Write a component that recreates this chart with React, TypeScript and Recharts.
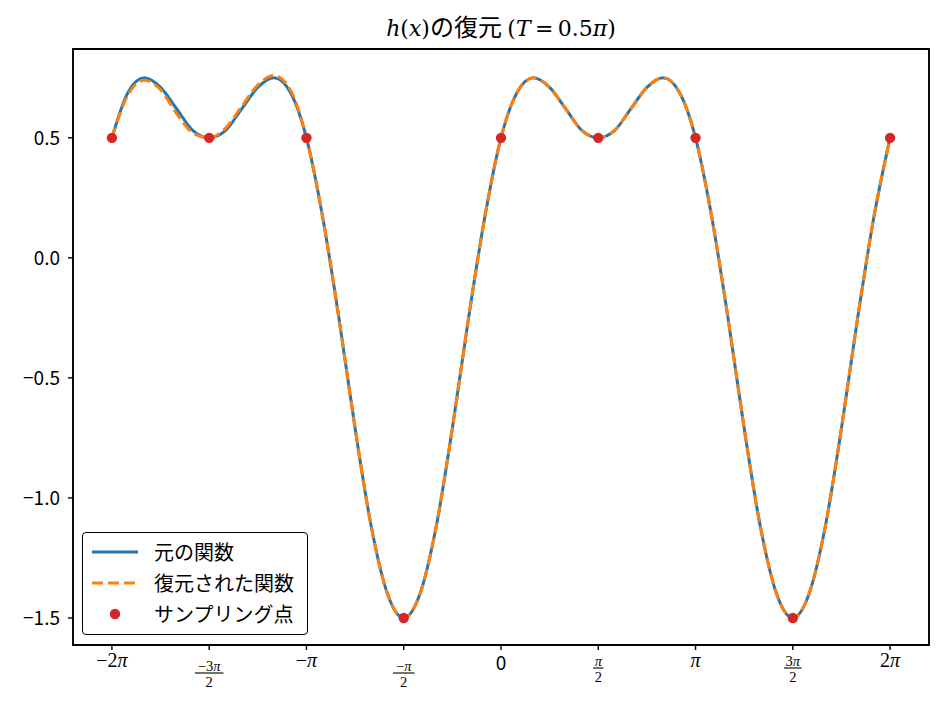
import React from 'react';
import { ComposedChart, Line, Scatter, XAxis, YAxis, ReferenceArea } from 'recharts';

// x positions in units of pi, step pi/12
const X_PI = [
  -2, -1.9167, -1.8333, -1.75, -1.6667, -1.5833, -1.5, -1.4167, -1.3333, -1.25, -1.1667, -1.0833,
  -1, -0.9167, -0.8333, -0.75, -0.6667, -0.5833, -0.5, -0.4167, -0.3333, -0.25, -0.1667, -0.0833,
  0, 0.0833, 0.1667, 0.25, 0.3333, 0.4167, 0.5, 0.5833, 0.6667, 0.75, 0.8333, 0.9167,
  1, 1.0833, 1.1667, 1.25, 1.3333, 1.4167, 1.5, 1.5833, 1.6667, 1.75, 1.8333, 1.9167, 2,
];

const ORIGINAL = [
  0.5, 0.69, 0.75, 0.71, 0.62, 0.53, 0.5, 0.53, 0.62, 0.71, 0.75, 0.69,
  0.5, 0.17, -0.25, -0.71, -1.12, -1.4, -1.5, -1.4, -1.12, -0.71, -0.25, 0.17,
  0.5, 0.69, 0.75, 0.71, 0.62, 0.53, 0.5, 0.53, 0.62, 0.71, 0.75, 0.69,
  0.5, 0.17, -0.25, -0.71, -1.12, -1.4, -1.5, -1.4, -1.12, -0.71, -0.25, 0.17, 0.5,
];

const RECONSTRUCTED = [
  0.5, 0.68, 0.74, 0.7, 0.6, 0.52, 0.5, 0.54, 0.63, 0.72, 0.76, 0.7,
  0.5, 0.17, -0.25, -0.71, -1.12, -1.4, -1.5, -1.4, -1.12, -0.71, -0.25, 0.17,
  0.5, 0.69, 0.75, 0.71, 0.62, 0.53, 0.5, 0.53, 0.62, 0.71, 0.75, 0.69,
  0.5, 0.17, -0.25, -0.71, -1.12, -1.4, -1.5, -1.4, -1.12, -0.71, -0.25, 0.17, 0.5,
];

const SAMPLE_X = [-2, -1.5, -1, -0.5, 0, 0.5, 1, 1.5, 2];
const SAMPLE_Y = [0.5, 0.5, 0.5, -1.5, 0.5, 0.5, 0.5, -1.5, 0.5];

const X_TICKS = [-2, -1.5, -1, -0.5, 0, 0.5, 1, 1.5, 2];
const X_TICK_NUM = ['−2π', '−3π', '−π', '−π', '0', 'π', 'π', '3π', '2π'];
const X_TICK_DEN = ['', '2', '', '2', '', '2', '', '2', ''];

const Y_TICKS = [-1.5, -1, -0.5, 0, 0.5];
const Y_TICK_LABELS = ['−1.5', '−1.0', '−0.5', '0.0', '0.5'];

const SANS = '"Noto Sans CJK JP", "Noto Sans", sans-serif';
const SERIF = '"Liberation Serif", "DejaVu Serif", serif';
const TITLE_SERIF = '"DejaVu Serif", "Liberation Serif", serif';

const BLUE = '#1f77b4';
const ORANGE = '#ff7f0e';
const RED = '#d62728';

const chartData = X_PI.map((x, i) => ({ x, orig: ORIGINAL[i], recon: RECONSTRUCTED[i] }));
const sampleData = SAMPLE_X.map((x, i) => ({ x, y: SAMPLE_Y[i] }));

const mathParts = (s: string) =>
  s.split(/(π)/).filter(Boolean).map((p, i) => (
    <tspan key={i} fontStyle={p === 'π' ? 'italic' : 'normal'}>{p}</tspan>
  ));

// rough width of a small fraction numerator
const numWidth = (s: string) =>
  s.split('').reduce((w, c) => w + (c === '−' ? 11 : c === 'π' ? 8.5 : 7), 0);

const XTick = (props: any) => {
  const { x, payload } = props;
  const i = X_TICKS.indexOf(payload.value);
  const num = X_TICK_NUM[i];
  const den = X_TICK_DEN[i];
  if (num === '0') {
    return (
      <text x={x} y={670} textAnchor="middle" fontFamily={SANS} fontSize={19} fill="#000">0</text>
    );
  }
  if (!den) {
    return (
      <text x={x} y={667} textAnchor="middle" fontFamily={SERIF} fontSize={20} fill="#000">
        {mathParts(num)}
      </text>
    );
  }
  const bar = payload.value < 0 ? 673 : 668;
  const w = numWidth(num) + 2;
  return (
    <g>
      <text x={x} y={bar - 2.5} textAnchor="middle" fontFamily={SERIF} fontSize={14.5} fill="#000">
        {mathParts(num)}
      </text>
      <line x1={x - w / 2} x2={x + w / 2} y1={bar} y2={bar} stroke="#000" strokeWidth={1.1} />
      <text x={x} y={bar + 14} textAnchor="middle" fontFamily={SERIF} fontSize={14.5} fill="#000">
        {den}
      </text>
    </g>
  );
};

const YTick = (props: any) => {
  const { x, y, payload } = props;
  const i = Y_TICKS.indexOf(payload.value);
  return (
    <text x={x} y={y} dy="0.36em" textAnchor="end" fontFamily={SANS} fontSize={19} fill="#000">
      {Y_TICK_LABELS[i]}
    </text>
  );
};

const LegendBox = () => {
  const rows = [
    { label: '元の関数', kind: 'line' },
    { label: '復元された関数', kind: 'dash' },
    { label: 'サンプリング点', kind: 'dot' },
  ];
  return (
    <div
      style={{
        position: 'absolute',
        left: 82,
        top: 532,
        width: 226,
        height: 103,
        boxSizing: 'border-box',
        border: '1.6px solid #000',
        borderRadius: 4,
        background: '#fff',
        paddingTop: 3,
      }}
    >
      {rows.map((r) => (
        <div key={r.label} style={{ display: 'flex', alignItems: 'center', height: 31 }}>
          <svg width={46} height={20} style={{ marginLeft: 9, marginRight: 16 }}>
            {r.kind === 'line' && <line x1={0} x2={46} y1={10} y2={10} stroke={BLUE} strokeWidth={3} />}
            {r.kind === 'dash' && (
              <line x1={0} x2={46} y1={10} y2={10} stroke={ORANGE} strokeWidth={3} strokeDasharray="11 5" />
            )}
            {r.kind === 'dot' && <circle cx={23} cy={10} r={5.2} fill={RED} />}
          </svg>
          <span style={{ fontFamily: SANS, fontSize: 20, lineHeight: '31px', color: '#000' }}>{r.label}</span>
        </div>
      ))}
    </div>
  );
};

export default function App() {
  const m = { fontFamily: TITLE_SERIF, fontSize: 22 };
  const mi = { ...m, fontStyle: 'italic' as const };
  return (
    <div style={{ position: 'absolute', left: 0, top: 0, width: 945, height: 704, background: '#fff' }}>
      <div
        style={{
          position: 'absolute',
          left: 73,
          width: 856,
          top: 10,
          textAlign: 'center',
          fontSize: 24,
          lineHeight: '32px',
          color: '#000',
          whiteSpace: 'nowrap',
        }}
      >
        <span style={mi}>h</span>
        <span style={m}>(</span>
        <span style={mi}>x</span>
        <span style={m}>)</span>
        <span style={{ fontFamily: SANS, fontSize: 24 }}>の復元 </span>
        <span style={m}>(</span>
        <span style={mi}>T</span>
        <span style={m}>{'\u2009=\u20090.5'}</span>
        <span style={mi}>π</span>
        <span style={m}>)</span>
      </div>
      <ComposedChart
        width={945}
        height={704}
        data={chartData}
        margin={{ top: 49, right: 16, bottom: 29, left: 13 }}
      >
        <XAxis
          dataKey="x"
          type="number"
          domain={[-2.2, 2.2]}
          ticks={X_TICKS}
          interval={0}
          axisLine={false}
          tickLine={{ stroke: '#000', strokeWidth: 1.4 }}
          tickSize={5}
          height={30}
          tick={<XTick />}
        />
        <YAxis
          type="number"
          domain={[-1.6125, 0.87]}
          ticks={Y_TICKS}
          interval={0}
          axisLine={false}
          tickLine={{ stroke: '#000', strokeWidth: 1.4 }}
          tickSize={5}
          tickMargin={8}
          width={60}
          tick={<YTick />}
        />
        <Line
          type="monotone"
          dataKey="orig"
          stroke={BLUE}
          strokeWidth={3}
          dot={false}
          isAnimationActive={false}
        />
        <Line
          type="monotone"
          dataKey="recon"
          stroke={ORANGE}
          strokeWidth={3}
          strokeDasharray="11 5"
          dot={false}
          isAnimationActive={false}
        />
        <Scatter
          data={sampleData}
          dataKey="y"
          fill={RED}
          isAnimationActive={false}
          shape={(p: any) => <circle cx={p.cx} cy={p.cy} r={5.2} fill={RED} />}
        />
        <ReferenceArea
          x1={-2.2}
          x2={2.2}
          y1={-1.6125}
          y2={0.87}
          fill="none"
          fillOpacity={0}
          stroke="#000"
          strokeWidth={1.9}
        />
      </ComposedChart>
      <LegendBox />
    </div>
  );
}
